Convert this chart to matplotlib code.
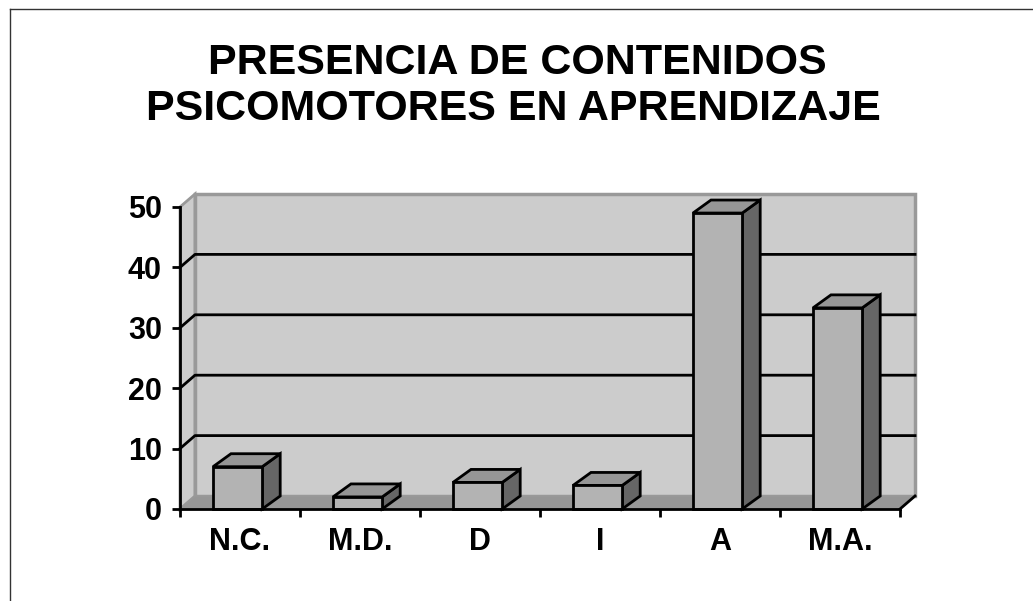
import matplotlib
matplotlib.use("Agg")
import matplotlib.pyplot as plt
from matplotlib.patches import Polygon, Rectangle

plt.rcParams['font.family'] = ['Liberation Sans', 'DejaVu Sans']
plt.rcParams['font.weight'] = 'bold'

categorias = ['N.C.', 'M.D.', 'D', 'I', 'A', 'M.A.']
valores = [7, 2, 4.4, 3.9, 49, 33.3]
ticks_y = [0, 10, 20, 30, 40, 50]
titulo = ['PRESENCIA DE CONTENIDOS', 'PSICOMOTORES EN APRENDIZAJE']

W, H = 1033, 601
fig = plt.figure(figsize=(W / 100, H / 100), dpi=100)
fig.patch.set_facecolor('white')

# ejes: plano frontal en pixeles 180..900 (x), 509..207 (y)
ax = fig.add_axes([180 / W, (H - 509) / H, 720 / W, 302 / H])
n = len(categorias)
ax.set_xlim(-0.5, n - 0.5)
ax.set_ylim(0, 50)

px_x = n / 720.0          # unidades por pixel en x
px_y = 50 / 302.0         # unidades por pixel en y
dxw, dyw = 15 * px_x, 13 * px_y   # profundidad de la pared
dxb, dyb = 18 * px_x, 13 * px_y   # profundidad de las barras
x0, x1 = -0.5, n - 0.5
top = ticks_y[-1]

# pared izquierda
ax.add_patch(Polygon([(x0, 0), (x0 + dxw, dyw), (x0 + dxw, top + dyw), (x0, top)],
                     closed=True, facecolor='#cccccc', edgecolor='#999999', lw=2,
                     clip_on=False, zorder=1))
# pared del fondo
ax.add_patch(Polygon([(x0 + dxw, dyw), (x1 + dxw, dyw), (x1 + dxw, top + dyw), (x0 + dxw, top + dyw)],
                     closed=True, facecolor='#cccccc', edgecolor='#999999', lw=2.5,
                     clip_on=False, zorder=1))
# piso
ax.add_patch(Polygon([(x0, 0), (x1, 0), (x1 + dxw, dyw), (x0 + dxw, dyw)],
                     closed=True, facecolor='#969696', edgecolor='#999999', lw=1,
                     clip_on=False, zorder=1))
ax.plot([x1, x1 + dxw], [0, dyw], color='black', lw=2, clip_on=False, zorder=2)

# lineas de division
for v in ticks_y[1:-1]:
    ax.plot([x0, x0 + dxw, x1 + dxw], [v, v + dyw, v + dyw], color='black', lw=2,
            clip_on=False, zorder=2)

# barras 3D
ancho = 0.41
for i, h in enumerate(valores):
    a = i - ancho / 2 - 0.02
    b = a + ancho
    ax.add_patch(Polygon([(b, 0), (b + dxb, dyb), (b + dxb, h + dyb), (b, h)], closed=True,
                         facecolor='#666666', edgecolor='black', lw=2, clip_on=False, zorder=3,
                         joinstyle='miter'))
    ax.add_patch(Polygon([(a, h), (b, h), (b + dxb, h + dyb), (a + dxb, h + dyb)], closed=True,
                         facecolor='#969696', edgecolor='black', lw=2, clip_on=False, zorder=3,
                         joinstyle='miter'))
    ax.add_patch(Rectangle((a, 0), ancho, h, facecolor='#b3b3b3', edgecolor='black', lw=2,
                           clip_on=False, zorder=4, joinstyle='miter'))

ax.patch.set_visible(False)
for s in ['top', 'right']:
    ax.spines[s].set_visible(False)
for s in ['left', 'bottom']:
    ax.spines[s].set_linewidth(2)
    ax.spines[s].set_zorder(5)

ax.set_yticks(ticks_y)
ax.set_yticklabels([str(t) for t in ticks_y], fontsize=22, fontweight='bold')
ax.set_xticks([k - 0.5 for k in range(n + 1)])
ax.set_xticklabels([])
ax.set_xticks(range(n), minor=True)
ax.set_xticklabels(categorias, minor=True, fontsize=22, fontweight='bold')
ax.tick_params(axis='y', length=6, width=2, pad=7)
ax.tick_params(axis='x', which='major', length=6, width=2)
ax.tick_params(axis='x', which='minor', length=0, pad=13)

# titulo
fig.text(517 / W, 1 - 62.5 / H, titulo[0], ha='center', va='center', fontsize=31, fontweight='bold')
fig.text(513 / W, 1 - 109 / H, titulo[1], ha='center', va='center', fontsize=31, fontweight='bold')

# borde de la figura
fig.add_artist(plt.Line2D([10 / W, 10 / W], [0, 1 - 8.5 / H], transform=fig.transFigure, color='#333333', lw=1))
fig.add_artist(plt.Line2D([10 / W, 1], [1 - 8.5 / H, 1 - 8.5 / H], transform=fig.transFigure, color='#333333', lw=1))

fig.savefig('out.png', dpi=100)
